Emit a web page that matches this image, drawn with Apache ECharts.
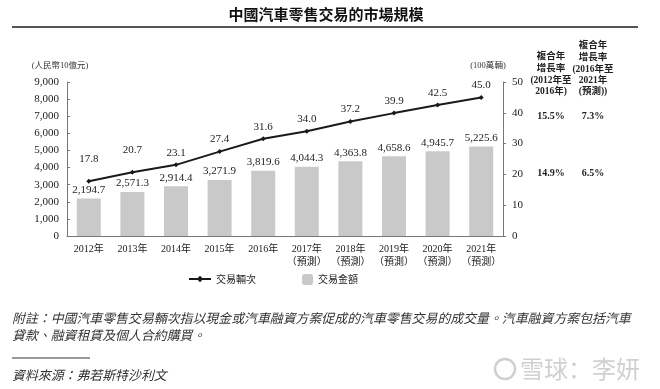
<!DOCTYPE html>
<html><head><meta charset="utf-8">
<script src="https://cdn.jsdelivr.net/npm/echarts@6/dist/echarts.min.js"></script>
<style>html,body{margin:0;padding:0;background:#fff}#c{width:660px;height:389px}</style>
</head><body><div id="c"></div>
<script>
const categories = ['2012年','2013年','2014年','2015年','2016年','2017年\n（預測）','2018年\n（預測）','2019年\n（預測）','2020年\n（預測）','2021年\n（預測）'];
const amountValues = [2194.7, 2571.3, 2914.4, 3271.9, 3819.6, 4044.3, 4363.8, 4658.6, 4945.7, 5225.6];
const volumeValues = [17.8, 20.7, 23.1, 27.4, 31.6, 34.0, 37.2, 39.9, 42.5, 45.0];
const leftTicks = [0, 9000, 1000];
const rightTicks = [0, 50, 10];
const cagrAmount = ['15.5%', '7.3%'];
const cagrVolume = ['14.9%', '6.5%'];

const SERIF = '"Liberation Serif", "Noto Sans CJK TC", serif';
const fmt = v => v.toLocaleString('en-US', {minimumFractionDigits: 1, maximumFractionDigits: 1});

const chart = echarts.init(document.getElementById('c'));
const lineData = volumeValues.map((v, i) => (i < 2 ? {value: v, label: {distance: 14}} : v));

function txt(x, y, s, o) {
  return Object.assign({type: 'text', x: x, y: y, style: Object.assign({text: s, fill: '#222', font: '10px ' + SERIF, textAlign: 'center', textVerticalAlign: 'middle'}, o || {})});
}
const hdrFont = 'bold 9.5px "Liberation Serif", "Noto Sans CJK TC", serif';
const noteFont = 'italic 12.9px "Noto Sans CJK TC", serif';
const graphics = [
  txt(326, 14, '中國汽車零售交易的市場規模', {font: 'bold 15px "Noto Sans CJK TC", serif', fill: '#111'}),
  {type: 'line', shape: {x1: 12, y1: 27, x2: 638, y2: 27}, style: {stroke: '#555', lineWidth: 2}},
  txt(60, 66, '(人民幣10億元)', {font: '8.5px ' + SERIF, fill: '#333'}),
  txt(488, 66, '(100萬輛)', {font: '8.5px ' + SERIF, fill: '#333'}),
  txt(551, 57, '複合年', {font: hdrFont}),
  txt(551, 69, '增長率', {font: hdrFont}),
  txt(551, 81, '(2012年至', {font: hdrFont}),
  txt(551, 92, '2016年)', {font: hdrFont}),
  txt(593, 46, '複合年', {font: hdrFont}),
  txt(593, 58, '增長率', {font: hdrFont}),
  txt(593, 70, '(2016年至', {font: hdrFont}),
  txt(593, 81, '2021年', {font: hdrFont}),
  txt(593, 92, '(預測))', {font: hdrFont}),
  txt(551, 116, cagrAmount[0], {font: 'bold 10px ' + SERIF}),
  txt(593, 116, cagrAmount[1], {font: 'bold 10px ' + SERIF}),
  txt(551, 173, cagrVolume[0], {font: 'bold 10px ' + SERIF}),
  txt(593, 173, cagrVolume[1], {font: 'bold 10px ' + SERIF}),
  txt(12, 318, '附註：中國汽車零售交易輛次指以現金或汽車融資方案促成的汽車零售交易的成交量。汽車融資方案包括汽車', {textAlign: 'left', font: noteFont, fill: '#333'}),
  txt(12, 335, '貸款、融資租賃及個人合約購買。', {textAlign: 'left', font: noteFont, fill: '#333'}),
  {type: 'line', shape: {x1: 12, y1: 358, x2: 90, y2: 358}, style: {stroke: '#333', lineWidth: 1}},
  txt(12, 375, '資料來源：弗若斯特沙利文', {textAlign: 'left', font: noteFont, fill: '#333'}),
  {type: 'circle', shape: {cx: 505, cy: 369, r: 10}, style: {fill: 'none', stroke: '#d0d0d0', lineWidth: 2.5}},
  txt(580, 369, '雪球：李妍', {font: '24px "Noto Sans CJK SC", sans-serif', fill: '#d0d0d0'})
];

chart.setOption({
  animation: false,
  backgroundColor: '#fff',
  grid: {left: 67, right: 157, top: 82, bottom: 153},
  legend: [
    {data: ['交易輛次'], left: 183, top: 269, itemWidth: 22, itemHeight: 8, itemGap: 4,
     textStyle: {fontFamily: '"Noto Sans CJK TC", serif', fontSize: 10, color: '#222'}},
    {data: ['交易金額'], left: 297, top: 269, itemWidth: 11, itemHeight: 11, itemGap: 4,
     textStyle: {fontFamily: '"Noto Sans CJK TC", serif', fontSize: 10, color: '#222'}}
  ],
  xAxis: {
    type: 'category', data: categories,
    axisLine: {lineStyle: {color: '#777', width: 1}},
    axisTick: {show: false},
    axisLabel: {color: '#222', fontFamily: SERIF, fontSize: 10, lineHeight: 13, margin: 7, interval: 0}
  },
  yAxis: [
    {type: 'value', min: leftTicks[0], max: leftTicks[1], interval: leftTicks[2],
     axisLine: {show: true, lineStyle: {color: '#777'}},
     axisTick: {show: true, length: 3, inside: true, lineStyle: {color: '#777'}},
     splitLine: {show: false},
     axisLabel: {color: '#222', fontFamily: SERIF, fontSize: 11, margin: 8,
       formatter: v => v.toLocaleString('en-US')}},
    {type: 'value', min: rightTicks[0], max: rightTicks[1], interval: rightTicks[2], position: 'right',
     axisLine: {show: true, lineStyle: {color: '#777'}},
     axisTick: {show: true, length: 3, lineStyle: {color: '#777'}},
     splitLine: {show: false},
     axisLabel: {color: '#222', fontFamily: SERIF, fontSize: 11, margin: 9}}
  ],
  series: [
    {name: '交易金額', type: 'bar', data: amountValues, barWidth: 24, yAxisIndex: 0,
     itemStyle: {color: '#c9c9c9'},
     label: {show: true, position: 'top', distance: 3, color: '#222', fontFamily: SERIF, fontSize: 11,
       formatter: p => fmt(p.value)}},
    {name: '交易輛次', type: 'line', data: lineData, yAxisIndex: 1, z: 5,
     symbol: 'diamond', symbolSize: 5, showAllSymbol: true,
     lineStyle: {color: '#1a1a1a', width: 2}, itemStyle: {color: '#1a1a1a'},
     label: {show: true, position: 'top', distance: 4, color: '#222', fontFamily: SERIF, fontSize: 11,
       formatter: p => fmt(p.value)}}
  ],
  graphic: graphics
});
</script></body></html>
